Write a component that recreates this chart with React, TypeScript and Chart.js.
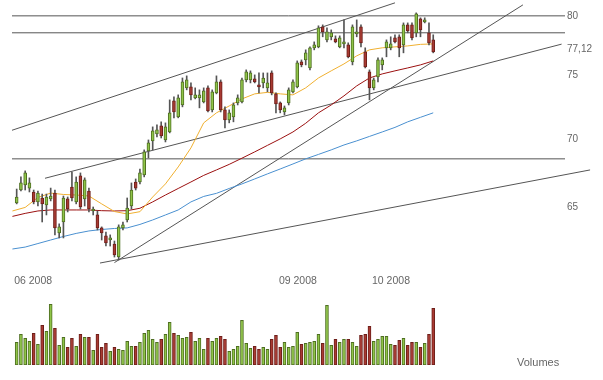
import React, { useEffect, useRef } from "react";
import { Chart, registerables } from "chart.js";
Chart.register(...registerables);

// ---- daily candles (index 0 = first trading day shown) ----
const openP = [65.29,66.21,66.58,66.35,66.07,65.36,65.64,65.15,65.57,65.99,63.20,63.95,65.57,66.43,65.36,67.23,65.57,66.14,64.72,64.44,63.54,62.99,62.71,62.44,61.56,63.54,64.09,65.07,66.79,66.79,67.30,69.09,69.84,70.37,70.99,69.91,70.52,72.94,71.68,72.62,73.98,74.06,73.18,73.18,72.86,73.98,72.23,73.58,74.46,72.23,71.45,71.68,72.78,72.86,74.62,74.62,74.70,74.22,74.38,73.98,75.19,73.50,72.78,72.07,72.78,73.66,74.06,76.10,76.26,75.60,77.27,77.35,79.05,77.94,78.20,78.03,77.35,77.60,77.52,76.10,78.45,79.05,76.93,75.28,73.98,74.87,75.85,77.27,77.27,78.11,78.20,77.52,79.22,79.22,78.54,79.74,79.48,78.54,77.94];
const highP = [66.28,67.16,67.60,67.09,66.21,66.14,65.92,65.92,66.35,66.21,63.82,65.78,65.71,67.52,67.16,67.45,67.09,66.35,65.00,64.72,63.61,63.26,63.06,62.64,63.75,63.95,65.64,66.72,67.01,67.74,69.16,69.91,70.91,71.07,71.30,71.22,73.02,73.26,73.42,74.78,74.95,74.38,73.98,73.82,73.98,74.14,73.82,74.95,74.62,72.47,72.23,72.78,73.42,74.78,75.44,75.36,75.03,75.19,75.19,75.19,75.36,73.58,72.86,72.54,73.98,74.62,76.18,76.26,77.10,77.35,77.77,79.14,79.22,78.96,78.79,78.28,78.28,79.65,77.69,79.22,79.65,79.22,77.27,75.44,74.78,76.43,76.43,77.94,78.20,78.37,78.37,79.39,79.39,79.39,80.26,79.83,79.83,79.39,78.37];
const lowP = [65.22,66.14,66.21,66.07,65.22,65.07,63.95,64.44,65.43,63.06,62.85,62.85,64.65,65.43,65.22,64.86,65.07,64.65,64.44,63.40,62.71,62.30,62.30,61.56,61.36,63.40,63.95,64.86,66.21,66.65,67.16,68.56,69.16,70.14,70.06,69.76,70.45,71.61,71.61,72.47,73.82,73.02,73.10,72.39,72.78,72.07,72.07,73.50,72.07,70.83,71.22,71.30,72.62,72.78,74.46,74.38,74.38,73.58,73.98,73.66,73.42,72.00,72.00,71.84,72.62,73.58,73.98,75.69,75.85,75.44,77.10,77.27,78.20,77.77,77.94,77.69,77.27,77.27,76.43,75.85,78.20,77.35,75.60,73.02,73.82,74.46,75.44,76.52,77.10,77.69,76.52,76.85,78.54,77.94,78.20,78.20,79.39,77.52,76.85];
const closeP = [65.71,66.72,67.45,66.72,65.36,65.99,65.22,65.71,65.78,63.54,63.61,65.64,64.86,65.64,66.79,65.00,66.94,64.86,64.86,63.54,63.20,62.51,62.85,61.70,63.61,63.75,64.93,66.21,66.35,67.45,69.01,69.69,70.60,70.68,70.22,70.91,72.00,72.07,73.18,74.46,74.62,73.42,73.42,73.42,73.74,72.15,73.66,74.46,72.23,71.45,72.00,72.62,73.18,74.62,75.28,75.19,74.46,74.06,74.78,74.38,73.58,72.70,72.23,72.39,73.82,74.46,76.01,75.85,76.85,77.27,77.52,78.96,78.62,78.62,78.54,77.77,78.11,77.77,76.52,79.05,78.62,77.69,75.69,73.98,74.62,76.26,76.26,77.77,77.60,77.77,77.27,79.22,78.71,78.11,80.17,78.79,79.65,77.69,76.93];
const volumes = [68,92,80,71,95,62,119,101,182,110,59,83,53,80,56,92,83,83,44,92,53,65,41,53,47,44,71,56,56,68,95,104,77,68,77,92,128,95,89,80,83,98,71,80,47,80,71,80,86,77,41,47,56,134,65,50,56,47,53,47,77,89,53,68,53,56,98,62,65,68,71,92,65,179,59,77,68,77,77,68,56,89,92,116,71,77,86,86,62,59,74,80,59,68,68,53,65,92,170];

// ---- moving averages read at these day indices ----
const maIdx = [-1,2,5,8,11,14,17,20,23,26,29,32,35,38,41,44,47,50,53,56,59,62,65,68,71,74,77,80,83,86,89,92,95,98];
const maShort = [64.72,64.97,65.68,65.99,65.89,65.85,65.78,65.22,64.68,64.51,64.67,65.71,66.65,67.89,69.31,71.22,72.00,72.54,73.10,73.50,73.62,73.50,73.42,73.98,74.78,75.36,75.93,76.60,77.10,77.27,77.35,77.43,77.56,77.60];
const maMid = [64.34,64.55,64.72,64.79,64.79,64.79,64.79,64.74,64.72,64.74,64.91,65.36,65.85,66.32,66.79,67.27,67.67,68.08,68.54,69.01,69.50,69.99,70.52,71.19,72.00,72.62,73.34,74.14,74.78,75.11,75.36,75.60,75.85,76.18];
const maLong = [62.10,62.23,62.47,62.71,62.95,63.16,63.33,63.43,63.50,63.54,63.78,64.09,64.44,64.79,65.36,65.75,65.97,66.32,66.65,67.01,67.38,67.74,68.11,68.49,68.82,69.16,69.53,69.84,70.18,70.52,70.87,71.30,71.65,72.00];

// ---- horizontal levels and trend lines ----
const levelValues = [80, 78.54, 68.49];
const trendStartIdx = [-1.1, 6.66, 23, 19.6];
const trendStartVal = [70.65, 67.06, 61.19, 61.16];
const trendEndIdx = [89.0, 128.2, 119.1, 134.9];
const trendEndVal = [81.14, 77.58, 80.96, 67.67];

// ---- axes ----
const monthTickIdx = [-0.6, 61.7, 83.6];
const monthLabels = ["06 2008", "09 2008", "10 2008"];
const priceTicks = [65, 70, 75, 77.12, 80];

const X_MIN = -1.1;
const X_MAX = 129;
const Y_MIN = 61.03;
const Y_MAX = 81.39;
const VOL_MAX = 195;

const GREEN_FILL = "#8fc448";
const GREEN_EDGE = "#4f6f22";
const RED_FILL = "#a83a32";
const RED_EDGE = "#6e1f1a";
const FONT = "'Liberation Sans', Arial, sans-serif";

export default function App() {
  const priceRef = useRef<HTMLCanvasElement>(null);
  const volRef = useRef<HTMLCanvasElement>(null);

  useEffect(() => {
    const idx = closeP.map((_, i) => i);
    const up = idx.map((i) => closeP[i] >= openP[i]);
    const fills = idx.map((i) => (up[i] ? GREEN_FILL : RED_FILL));
    const edges = idx.map((i) => (up[i] ? GREEN_EDGE : RED_EDGE));

    const line = (data: any[], color: string, order: number, clip: any = false) => ({
      type: "line" as const,
      data,
      borderColor: color,
      borderWidth: 1,
      pointRadius: 0,
      tension: 0,
      fill: false,
      order,
      clip,
    });

    const datasets: any[] = [
      {
        type: "bar",
        data: idx.map((i) => ({ x: i, y: [openP[i], closeP[i]] })),
        backgroundColor: fills,
        borderColor: edges,
        borderWidth: 1,
        borderSkipped: false,
        barThickness: 3,
        grouped: false,
        order: 0,
      },
      {
        type: "bar",
        data: idx.map((i) => ({ x: i, y: [lowP[i], highP[i]] })),
        backgroundColor: "#555555",
        borderWidth: 0,
        barThickness: 1,
        grouped: false,
        order: 1,
      },
      line(maIdx.map((x, k) => ({ x, y: maShort[k] })), "#f0b030", 2, 0),
      line(maIdx.map((x, k) => ({ x, y: maMid[k] })), "#9b1010", 2, 0),
      line(maIdx.map((x, k) => ({ x, y: maLong[k] })), "#4a90d0", 2, 0),
      ...levelValues.map((v) => line([{ x: X_MIN, y: v }, { x: X_MAX, y: v }], "#555555", 3, 0)),
      ...trendStartIdx.map((s, k) =>
        line([{ x: s, y: trendStartVal[k] }, { x: trendEndIdx[k], y: trendEndVal[k] }], "#555555", 3, false)
      ),
    ];

    const priceChart = new Chart(priceRef.current as HTMLCanvasElement, {
      type: "bar",
      data: { datasets },
      options: {
        animation: false,
        responsive: false,
        layout: { padding: { left: 12, right: 0, top: 0, bottom: 0 } },
        plugins: { legend: { display: false }, tooltip: { enabled: false } },
        scales: {
          x: {
            type: "linear",
            min: X_MIN,
            max: X_MAX,
            bounds: "data",
            offset: false,
            grid: { display: false, drawTicks: false },
            border: { display: false },
            ticks: {
              autoSkip: false,
              maxRotation: 0,
              align: "start",
              padding: 10,
              color: "#666666",
              font: { family: FONT, size: 10.5 },
              callback: (_v: any, i: number) => monthLabels[i],
            },
            afterBuildTicks: (s: any) => {
              s.ticks = monthTickIdx.map((v) => ({ value: v }));
            },
            afterFit: (s: any) => {
              s.height = 30;
              s.paddingLeft = 0;
              s.paddingRight = 0;
            },
          },
          y: {
            type: "logarithmic",
            position: "right",
            min: Y_MIN,
            max: Y_MAX,
            bounds: "data",
            grid: { display: false, drawTicks: false },
            border: { display: false },
            ticks: {
              padding: 2,
              color: "#666666",
              font: { family: FONT, size: 10 },
              callback: (v: any) => String(v).replace(".", ","),
            },
            afterBuildTicks: (s: any) => {
              s.ticks = priceTicks.map((v) => ({ value: v }));
            },
            afterFit: (s: any) => {
              s.width = 38;
              s.paddingTop = 0;
              s.paddingBottom = 0;
            },
          },
        },
      } as any,
    });

    const volChart = new Chart(volRef.current as HTMLCanvasElement, {
      type: "bar",
      data: {
        datasets: [
          {
            data: idx.map((i) => ({ x: i, y: volumes[i] })),
            backgroundColor: fills,
            borderColor: edges,
            borderWidth: 1,
            borderSkipped: false,
            barThickness: 3,
          } as any,
        ],
      },
      options: {
        animation: false,
        responsive: false,
        layout: { padding: { left: 12, right: 38, top: 0, bottom: 0 } },
        plugins: { legend: { display: false }, tooltip: { enabled: false } },
        scales: {
          x: { type: "linear", min: X_MIN, max: X_MAX, offset: false, display: false },
          y: { min: 0, max: VOL_MAX, display: false },
        },
      } as any,
    });

    return () => {
      priceChart.destroy();
      volChart.destroy();
    };
  }, []);

  return (
    <div style={{ position: "absolute", left: 0, top: 0, width: 603, height: 380, background: "#ffffff" }}>
      <canvas ref={priceRef} width={603} height={295} style={{ position: "absolute", left: 0, top: 0 }} />
      <canvas ref={volRef} width={603} height={65} style={{ position: "absolute", left: 0, top: 300 }} />
      <div
        style={{
          position: "absolute",
          left: 517,
          top: 356,
          font: `11px ${FONT}`,
          lineHeight: "12px",
          color: "#666666",
        }}
      >
        Volumes
      </div>
    </div>
  );
}
